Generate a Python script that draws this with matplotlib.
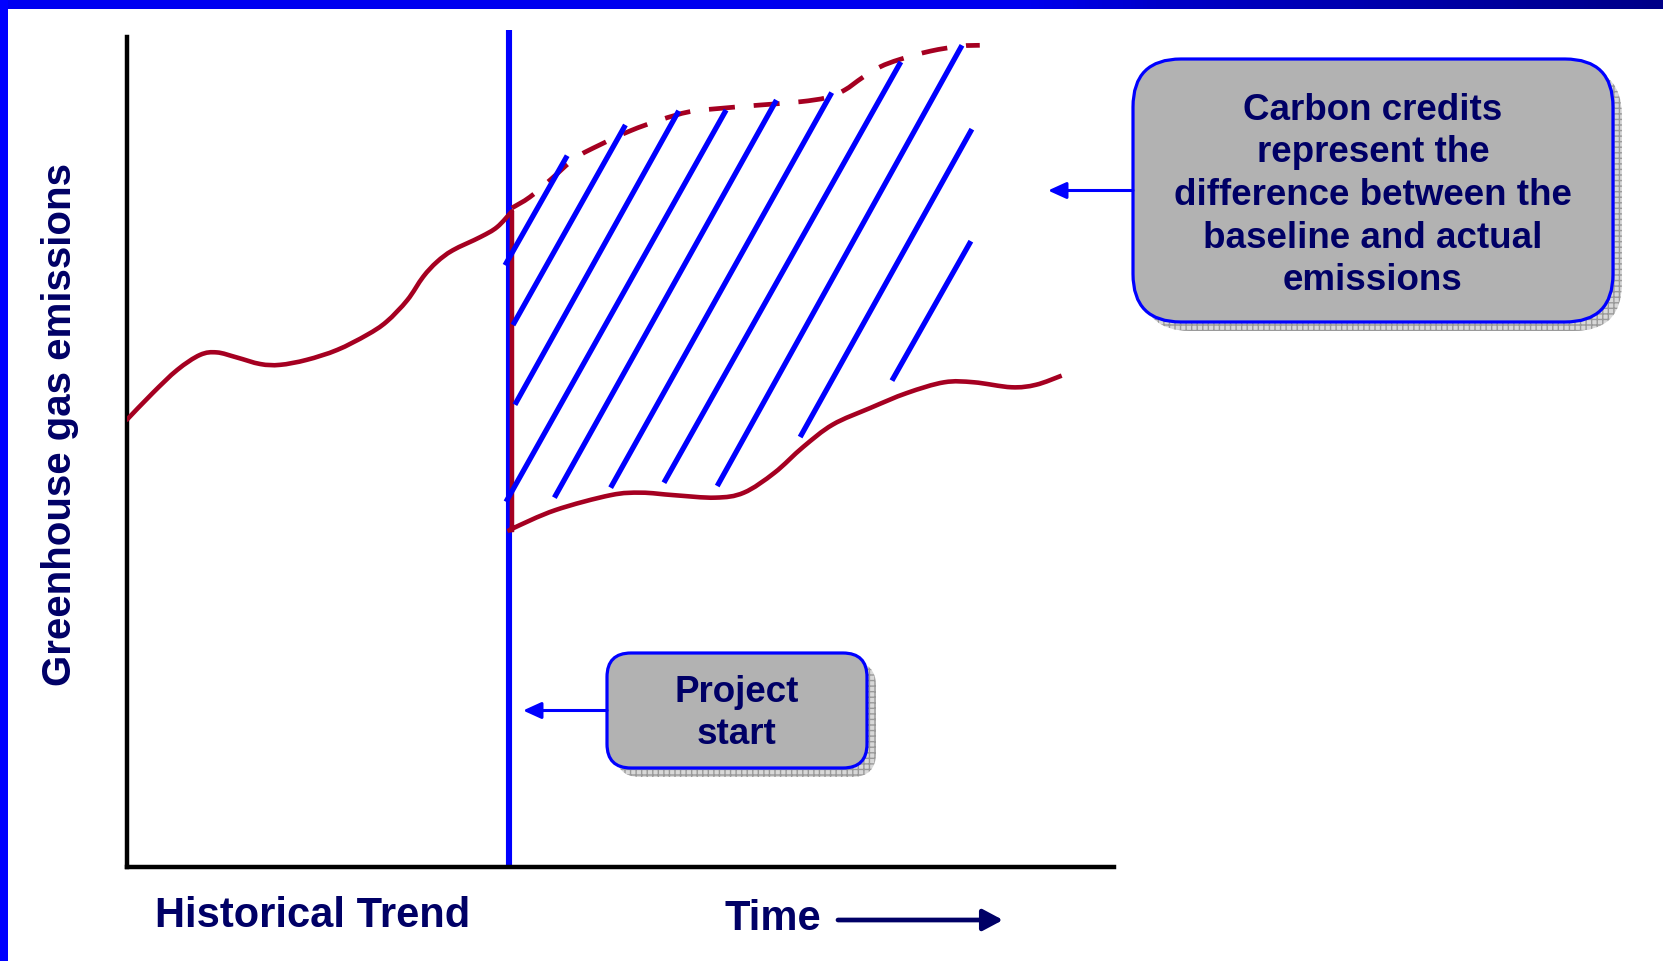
import numpy as np
import matplotlib
matplotlib.use("Agg")
import matplotlib.pyplot as plt
from matplotlib.patches import FancyBboxPatch, FancyArrowPatch, Rectangle, PathPatch
from matplotlib.path import Path
from matplotlib.colors import LinearSegmentedColormap

# emissions (arbitrary units, 0-100) against time (0-100)
hist_t = [0.0, 2.6, 5.1, 7.4, 9.1, 11.1, 13.5, 15.5, 18.2, 21.3, 24.3, 26.3, 28.4, 30.0, 31.4, 33.0, 35.8, 37.5, 39.0]
hist_e = [53.9, 57.1, 59.9, 61.7, 62.0, 61.4, 60.6, 60.5, 61.1, 62.3, 64.1, 65.7, 68.3, 71.1, 72.9, 74.3, 75.9, 77.1, 79.0]

act_t = [39.0, 39.0, 39.1, 43.4, 49.0, 52.1, 55.4, 59.6, 62.5, 65.6, 68.5, 71.5, 75.3, 79.0, 82.8, 85.8, 89.6, 92.1, 94.7]
act_e = [79.0, 40.6, 40.8, 43.0, 44.8, 45.1, 44.8, 44.5, 45.1, 47.5, 50.6, 53.3, 55.3, 57.1, 58.4, 58.4, 57.8, 58.1, 59.2]

base_t = [39.0, 40.8, 42.9, 45.4, 47.9, 51.0, 54.0, 57.0, 60.1, 64.1, 68.2, 70.9, 72.7, 74.5, 76.3, 78.3, 81.4, 84.4, 86.4]
base_e = [79.4, 80.7, 82.8, 85.4, 87.0, 88.7, 90.0, 91.0, 91.4, 91.8, 92.2, 92.7, 93.6, 95.1, 96.4, 97.3, 98.3, 98.9, 99.0]

# credit hatching: start / end of each stroke
hatch_t0 = [38.3, 39.1, 39.3, 38.4, 43.3, 49.0, 54.4, 59.8, 68.2, 77.5]
hatch_e0 = [72.5, 65.3, 55.7, 44.0, 44.5, 45.7, 46.3, 45.9, 51.8, 58.6]
hatch_t1 = [44.6, 50.5, 55.9, 60.7, 65.8, 71.4, 78.4, 84.6, 85.6, 85.5]
hatch_e1 = [85.7, 89.4, 91.1, 91.2, 92.4, 93.3, 97.0, 99.0, 88.9, 75.4]

project_start = 38.7

credit_text = "Carbon credits\nrepresent the\ndifference between the\nbaseline and actual\nemissions"
start_text = "Project\nstart"

RED = "#A50021"
BLUE = "#0000FF"
NAVY = "#000066"
FONT = "Liberation Sans"

W, H = 1663, 961
fig = plt.figure(figsize=(W / 100, H / 100), dpi=100)
fig.patch.set_facecolor("white")

# background layer in pixel units for frame and callouts
bg = fig.add_axes([0, 0, 1, 1], zorder=0)
bg.set_xlim(0, W)
bg.set_ylim(H, 0)
bg.axis("off")

cmap = LinearSegmentedColormap.from_list(
    "band", [(0, "#0000F2"), (0.62, "#0000EE"), (0.70, "#0000C8"), (1.0, "#000088")])
bg.imshow(np.linspace(0, 1, 400)[None, :], cmap=cmap, aspect="auto",
          extent=(0, W, 9, 0), zorder=1)
bg.add_patch(Rectangle((0, 0), 8, H, color=BLUE, lw=0, zorder=1))


def callout(x0, y0, x1, y1, rad, text, tip_x, dy):
    shadow = FancyBboxPatch((x0 + 9, y0 + 9), x1 - x0, y1 - y0,
                            boxstyle=f"round,pad=0,rounding_size={rad}",
                            facecolor="#d8d8d8", edgecolor="#9a9a9a",
                            hatch="+++", lw=0, zorder=2)
    bg.add_patch(shadow)
    box = FancyBboxPatch((x0, y0), x1 - x0, y1 - y0,
                         boxstyle=f"round,pad=0,rounding_size={rad}",
                         facecolor="#B2B2B2", edgecolor=BLUE, lw=2.3, zorder=3)
    bg.add_patch(box)
    bg.text((x0 + x1) / 2, (y0 + y1) / 2 + dy, text, ha="center", va="center",
            fontsize=26.5, fontweight="bold", family=FONT, color=NAVY,
            linespacing=1.28, zorder=4)
    ym = (y0 + y1) / 2
    bg.add_patch(FancyArrowPatch((x0, ym), (tip_x, ym),
                                 arrowstyle="-|>,head_length=0.55,head_width=0.25",
                                 mutation_scale=20, color=BLUE, lw=2.2,
                                 shrinkA=0, shrinkB=0, zorder=4))


callout(1133, 59, 1613, 322, 48, credit_text, 1048, 5)
callout(607, 653, 867, 768, 24, start_text, 523, 3)

# axis labels
bg.text(60, 424, "Greenhouse gas emissions", rotation=90, ha="center", va="center",
        fontsize=29, fontweight="bold", family=FONT, color=NAVY)
bg.text(313, 916, "Historical Trend", ha="center", va="center",
        fontsize=30, fontweight="bold", family=FONT, color=NAVY)
bg.text(773, 919, "Time", ha="center", va="center",
        fontsize=30, fontweight="bold", family=FONT, color=NAVY)
bg.add_patch(FancyArrowPatch((838, 920), (1003, 920),
                             arrowstyle="-|>,head_length=0.6,head_width=0.32",
                             mutation_scale=20, color=NAVY, lw=3.4,
                             shrinkA=0, shrinkB=0))


def smooth(xs, ys, start=None):
    # bezier path through the read points (Catmull-Rom handles)
    p = np.column_stack([xs, ys])
    verts, codes = [], []
    if start is not None:
        verts.append(start)
        codes.append(Path.MOVETO)
        verts.append(p[0])
        codes.append(Path.LINETO)
    else:
        verts.append(p[0])
        codes.append(Path.MOVETO)
    n = len(p)
    for i in range(n - 1):
        p0 = p[i - 1] if i > 0 else p[i]
        p3 = p[i + 2] if i + 2 < n else p[i + 1]
        c1 = p[i] + (p[i + 1] - p0) / 6
        c2 = p[i + 1] - (p3 - p[i]) / 6
        verts += [c1, c2, p[i + 1]]
        codes += [Path.CURVE4] * 3
    return Path(verts, codes)


# main chart
ax = fig.add_axes([127 / W, 94 / H, 987 / W, 830 / H], zorder=1)
ax.patch.set_alpha(0)
ax.set_xlim(0, 100)
ax.set_ylim(0, 100)
for side in ["top", "right"]:
    ax.spines[side].set_visible(False)
for side in ["left", "bottom"]:
    ax.spines[side].set_linewidth(3.2)
    ax.spines[side].set_color("black")
ax.set_xticks([])
ax.set_yticks([])

ax.plot([project_start, project_start], [0, 100.8], color=BLUE, lw=4.4,
        clip_on=False, zorder=2, solid_capstyle="butt")
ax.add_patch(PathPatch(smooth(hist_t, hist_e), fill=False, edgecolor=RED,
                       lw=3.3, zorder=3, capstyle="round"))
ax.add_patch(PathPatch(smooth(act_t[1:], act_e[1:], start=(act_t[0], act_e[0])),
                       fill=False, edgecolor=RED, lw=3.3, zorder=3,
                       joinstyle="miter"))
ax.add_patch(PathPatch(smooth(base_t, base_e), fill=False, edgecolor=RED,
                       lw=3.4, ls=(0, (5.5, 4)), zorder=3))
for t0, e0, t1, e1 in zip(hatch_t0, hatch_e0, hatch_t1, hatch_e1):
    ax.plot([t0, t1], [e0, e1], color=BLUE, lw=3.8, zorder=4,
            solid_capstyle="butt", clip_on=False)

fig.savefig("out.png", dpi=100)
